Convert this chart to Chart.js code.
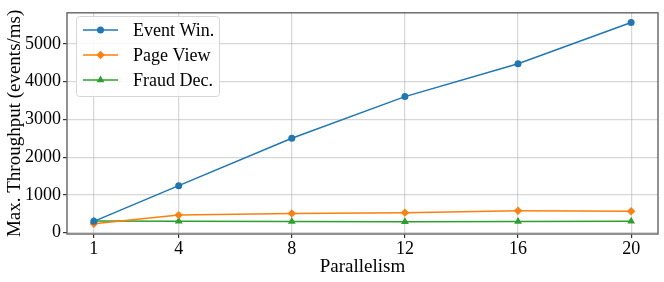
<!DOCTYPE html>
<html>
<head>
<meta charset="utf-8">
<script src="https://cdn.jsdelivr.net/npm/chart.js@4.4.0/dist/chart.umd.min.js"></script>
<style>
  html, body { margin: 0; padding: 0; background: #fff; }
  #wrap { width: 664px; height: 282px; }
</style>
</head>
<body>
<div id="wrap"><canvas id="chart" width="664" height="282"></canvas></div>
<script>
var parallelism = [1, 4, 8, 12, 16, 20];
var eventWin = [300, 1245, 2500, 3605, 4475, 5570];
var pageView = [235, 465, 510, 530, 580, 565];
var fraudDec = [310, 300, 295, 290, 295, 300];
var yTicks = [0, 1000, 2000, 3000, 4000, 5000];

var seriesNames = ["Event Win.", "Page View", "Fraud Dec."];
var seriesColors = ["#1f77b4", "#ff7f0e", "#2ca02c"];
var seriesMarkers = ["circle", "rectRot", "triangle"];
var markerSizes = [3.5, 4.2, 4.5];

var FONT = "'Liberation Serif', 'DejaVu Serif', serif";

function toPoints(values) {
    var pts = [];
    for (var i = 0; i < parallelism.length; i++) {
        pts.push({ x: parallelism[i], y: values[i] });
    }
    return pts;
}

function makeDataset(idx, values) {
    return {
        label: seriesNames[idx],
        data: toPoints(values),
        borderColor: seriesColors[idx],
        backgroundColor: seriesColors[idx],
        borderWidth: 1.5,
        pointStyle: seriesMarkers[idx],
        pointRadius: markerSizes[idx],
        pointBorderWidth: 0,
        tension: 0
    };
}

// frame around the plot area
var framePlugin = {
    id: "frame",
    afterDraw: function (chart) {
        var a = chart.chartArea;
        var ctx = chart.ctx;
        ctx.save();
        ctx.strokeStyle = "#6e6e6e";
        ctx.lineWidth = 1.5;
        ctx.strokeRect(a.left, a.top, a.right - a.left, a.bottom - a.top);
        ctx.restore();
    }
};

// matplotlib style legend inside the plot
var legendPlugin = {
    id: "innerLegend",
    afterDraw: function (chart) {
        var ctx = chart.ctx;
        var x0 = 76, y0 = 16, w = 143, h = 80;
        ctx.save();
        ctx.fillStyle = "rgba(255,255,255,0.85)";
        ctx.strokeStyle = "#d6d6d6";
        ctx.lineWidth = 1;
        ctx.beginPath();
        ctx.roundRect(x0 + 0.5, y0 + 0.5, w, h, 3);
        ctx.fill();
        ctx.stroke();
        ctx.font = "18px " + FONT;
        ctx.textBaseline = "middle";
        for (var i = 0; i < seriesNames.length; i++) {
            var y = y0 + 14 + i * 25;
            ctx.strokeStyle = seriesColors[i];
            ctx.lineWidth = 1.5;
            ctx.beginPath();
            ctx.moveTo(83, y);
            ctx.lineTo(118, y);
            ctx.stroke();
            ctx.fillStyle = seriesColors[i];
            Chart.helpers.drawPoint(ctx, {
                pointStyle: seriesMarkers[i],
                radius: markerSizes[i],
                rotation: 0,
                borderWidth: 0
            }, 100.5, y);
            ctx.fillStyle = "#000";
            ctx.fillText(seriesNames[i], 133, y + 1);
        }
        ctx.restore();
    }
};

var ctx = document.getElementById("chart");
var chart = new Chart(ctx, {
    type: "line",
    data: {
        datasets: [
            makeDataset(0, eventWin),
            makeDataset(1, pageView),
            makeDataset(2, fraudDec)
        ]
    },
    options: {
        responsive: false,
        animation: false,
        layout: { padding: { left: 0, right: 6, top: 8, bottom: 0 } },
        plugins: {
            legend: { display: false },
            tooltip: { enabled: false }
        },
        scales: {
            x: {
                type: "linear",
                min: 0.05,
                max: 20.95,
                afterBuildTicks: function (scale) {
                    scale.ticks = parallelism.map(function (v) { return { value: v }; });
                },
                afterFit: function (scale) { scale.height = 48; },
                grid: {
                    color: "rgba(176,176,176,0.5)",
                    lineWidth: 1.2,
                    tickColor: "#333",
                    tickLength: 4
                },
                border: { display: false },
                ticks: {
                    color: "#000",
                    font: { family: FONT, size: 18 },
                    padding: 0,
                    maxRotation: 0
                },
                title: {
                    display: true,
                    text: "Parallelism",
                    color: "#000",
                    font: { family: FONT, size: 19 },
                    padding: { top: 0, bottom: 4 }
                }
            },
            y: {
                min: -36,
                max: 5826,
                afterBuildTicks: function (scale) {
                    scale.ticks = yTicks.map(function (v) { return { value: v }; });
                },
                afterFit: function (scale) { scale.width = 67; },
                grid: {
                    color: "rgba(176,176,176,0.5)",
                    lineWidth: 1.2,
                    tickColor: "#333",
                    tickLength: 4
                },
                border: { display: false },
                ticks: {
                    color: "#000",
                    font: { family: FONT, size: 18 },
                    padding: 2,
                    callback: function (v) { return String(v); }
                },
                title: {
                    display: true,
                    text: "Max. Throughput (events/ms)",
                    color: "#000",
                    font: { family: FONT, size: 19 },
                    padding: { top: 4, bottom: 0 }
                }
            }
        }
    },
    plugins: [framePlugin, legendPlugin]
});
</script>
</body>
</html>
